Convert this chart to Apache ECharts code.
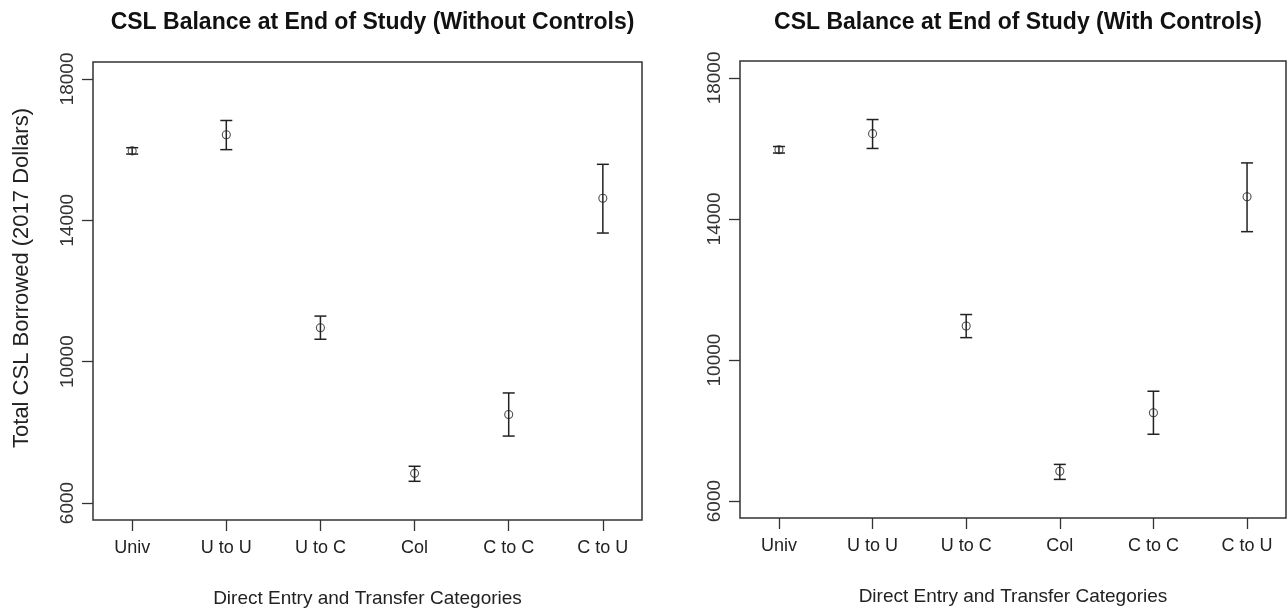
<!DOCTYPE html>
<html>
<head>
<meta charset="utf-8">
<title>CSL Balance at End of Study</title>
<script src="https://cdn.jsdelivr.net/npm/echarts@6/dist/echarts.min.js"></script>
<style>
  html, body { margin: 0; padding: 0; background: #fff; }
  #chart { width: 1288px; height: 614px; }
</style>
</head>
<body>
<div id="chart"></div>
<script>
// Entry / transfer categories along the x axis
const categories = ['Univ', 'U to U', 'U to C', 'Col', 'C to C', 'C to U'];
const categoryPositions = [1, 2, 3, 4, 5, 6];

// Mean total CSL borrowed with lower / upper confidence bounds, without controls
const meanNoControls = [15965, 16420, 10960, 6840, 8505, 14625];
const lowerNoControls = [15875, 16000, 10635, 6615, 7895, 13640];
const upperNoControls = [16055, 16825, 11290, 7040, 9115, 15585];

// Same quantities for the model with controls
const meanControls = [15965, 16420, 10965, 6845, 8505, 14630];
const lowerControls = [15870, 16000, 10635, 6615, 7895, 13640];
const upperControls = [16055, 16820, 11290, 7040, 9115, 15590];

// Value-axis tick labels
const yTicks = [6000, 10000, 14000, 18000];

const panelTitles = [
  'CSL Balance at End of Study (Without Controls)',
  'CSL Balance at End of Study (With Controls)'
];
const yTitle = 'Total CSL Borrowed (2017 Dollars)';
const xTitle = 'Direct Entry and Transfer Categories';

const ink = '#222';
const FONT = 'Liberation Sans, Arial, sans-serif';

const grids = [
  { left: 93, top: 62, width: 549, height: 458 },
  { left: 740, top: 61, width: 546, height: 457 }
];

// Vertical interval with short caps at both ends
function intervalRenderer(params, api) {
  const x = api.value(0);
  const lo = api.coord([x, api.value(1)]);
  const hi = api.coord([x, api.value(2)]);
  const cap = 6;
  const style = { stroke: ink, lineWidth: 1.5 };
  return {
    type: 'group',
    children: [
      { type: 'line', shape: { x1: lo[0], y1: lo[1], x2: hi[0], y2: hi[1] }, style },
      { type: 'line', shape: { x1: lo[0] - cap, y1: lo[1], x2: lo[0] + cap, y2: lo[1] }, style },
      { type: 'line', shape: { x1: hi[0] - cap, y1: hi[1], x2: hi[0] + cap, y2: hi[1] }, style }
    ]
  };
}

const panels = [
  { mean: meanNoControls, lower: lowerNoControls, upper: upperNoControls },
  { mean: meanControls, lower: lowerControls, upper: upperControls }
];

const option = {
  animation: false,
  backgroundColor: '#fff',
  title: panelTitles.map((t, i) => ({
    text: t,
    left: grids[i].left + grids[i].width / 2,
    textAlign: 'center',
    top: 6,
    textStyle: { fontFamily: FONT, fontWeight: 'bold', fontSize: 23, color: '#111' }
  })),
  grid: grids.map(g => ({
    left: g.left, top: g.top, width: g.width, height: g.height,
    show: true, borderColor: '#333', borderWidth: 1.5, backgroundColor: 'transparent'
  })),
  xAxis: grids.map((g, i) => ({
    type: 'value',
    gridIndex: i,
    min: 0.584,
    max: 6.416,
    name: xTitle,
    nameLocation: 'middle',
    nameGap: 69,
    nameTextStyle: { fontFamily: FONT, fontSize: 19, color: ink },
    splitLine: { show: false },
    axisLine: { show: false },
    axisTick: { show: true, inside: false, length: 11, customValues: categoryPositions,
      lineStyle: { color: '#333', width: 1.3 } },
    axisLabel: {
      customValues: categoryPositions,
      margin: 19,
      fontFamily: FONT, fontSize: 18, color: ink,
      formatter: v => categories[categoryPositions.indexOf(Math.round(v))] || ''
    }
  })),
  yAxis: grids.map((g, i) => ({
    type: 'value',
    gridIndex: i,
    min: 5520,
    max: 18480,
    name: i === 0 ? yTitle : '',
    nameLocation: 'middle',
    nameGap: 60,
    nameTextStyle: { fontFamily: FONT, fontSize: 22, color: ink, padding: [0, 0, 0, 26] },
    splitLine: { show: false },
    axisLine: { show: false },
    axisTick: { show: true, inside: false, length: 11, customValues: yTicks,
      lineStyle: { color: '#333', width: 1.3 } },
    axisLabel: {
      customValues: yTicks,
      rotate: 90,
      margin: 16,
      fontFamily: FONT, fontSize: 19, color: '#333',
      formatter: v => String(v)
    }
  })),
  series: panels.flatMap((p, i) => [
    {
      type: 'custom',
      xAxisIndex: i,
      yAxisIndex: i,
      renderItem: intervalRenderer,
      encode: { x: 0, y: [1, 2] },
      data: categoryPositions.map((x, k) => [x, p.lower[k], p.upper[k]]),
      z: 2
    },
    {
      type: 'scatter',
      xAxisIndex: i,
      yAxisIndex: i,
      symbol: 'circle',
      symbolSize: 8,
      itemStyle: { color: 'transparent', borderColor: ink, borderWidth: 1.1 },
      data: categoryPositions.map((x, k) => [x, p.mean[k]]),
      z: 3
    }
  ])
};

const chart = echarts.init(document.getElementById('chart'), null, { renderer: 'canvas' });
chart.setOption(option);
</script>
</body>
</html>
